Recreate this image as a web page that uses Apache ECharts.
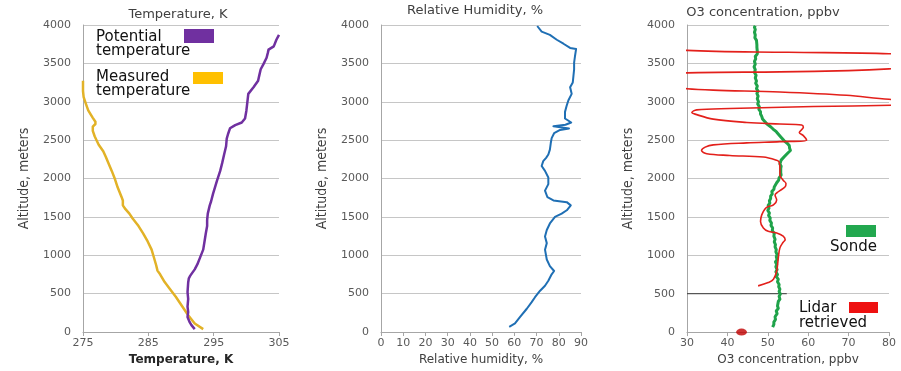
<!DOCTYPE html>
<html>
<head>
<meta charset="utf-8">
<script src="https://cdn.jsdelivr.net/npm/echarts@6/dist/echarts.min.js"></script>
<style>
  html, body { margin: 0; padding: 0; background: #fff; }
  #chart { width: 901px; height: 371px; }
</style>
</head>
<body>
<div id="chart"></div>
<script>
// Sounding profiles: altitude (m) on the vertical axis, measured quantity on the horizontal.
// Each point is [value, altitude].

const panelTitles = ['Temperature, K', 'Relative Humidity, %', 'O3 concentration, ppbv'];
const xAxisNames = ['Temperature, K', 'Relative humidity, %', 'O3 concentration, ppbv'];
const altitudeName = 'Altitude, meters';
const tempTicks = [275, 285, 295, 305];

const potentialTemp = [
  [292.1, 38], [291.6, 90], [291.3, 132], [291.0, 196], [291.1, 260], [291.0, 330],
  [291.1, 432], [291.0, 520], [291.1, 645], [291.2, 700], [291.4, 731], [291.8, 780],
  [292.1, 816], [292.5, 880], [292.9, 966], [293.4, 1073], [293.6, 1180], [293.8, 1286],
  [294.0, 1380], [294.0, 1457], [294.1, 1542], [294.4, 1650], [294.6, 1700], [294.9, 1800],
  [295.2, 1885], [295.5, 1970], [296.0, 2099], [296.3, 2200], [296.6, 2312], [296.9, 2420],
  [297.0, 2520], [297.2, 2580], [297.5, 2654], [298.3, 2696], [299.3, 2730], [299.8, 2782],
  [300.0, 2880], [300.1, 2953], [300.3, 3103], [301.1, 3188], [301.8, 3273], [302.0, 3350],
  [302.2, 3423], [302.6, 3487], [303.1, 3573], [303.3, 3640], [303.4, 3679], [304.2, 3722],
  [304.6, 3808], [305.0, 3872]
];

const measuredTemp = [
  [293.4, 38], [292.1, 111], [291.1, 218], [290.1, 346], [289.2, 460], [288.3, 560],
  [287.5, 650], [286.8, 752], [286.4, 800], [286.2, 870], [285.8, 987], [285.5, 1073],
  [284.9, 1180], [284.2, 1286], [283.5, 1380], [282.6, 1478], [282.1, 1542], [281.5, 1600],
  [281.1, 1650], [281.1, 1714], [280.9, 1760], [280.3, 1885], [279.9, 1990], [279.4, 2099],
  [278.9, 2200], [278.5, 2280], [278.1, 2355], [277.4, 2440], [276.8, 2547], [276.5, 2620],
  [276.5, 2676], [276.9, 2710], [276.9, 2740], [276.5, 2790], [275.8, 2888], [275.5, 2960],
  [275.1, 3060], [275.0, 3140], [275.0, 3273]
];

const relHumidity = [
  [57.7, 68], [60.3, 111], [62.6, 196], [65.6, 303], [67.8, 389], [69.3, 453],
  [71.6, 538], [73.8, 603], [75.3, 667], [76.8, 752], [77.9, 795], [76.0, 859],
  [74.6, 944], [73.8, 1073], [74.6, 1158], [73.8, 1244], [74.6, 1329], [76.0, 1414],
  [78.3, 1500], [81.3, 1542], [83.6, 1586], [85.4, 1650], [83.6, 1692], [77.6, 1714],
  [74.9, 1756], [73.8, 1842], [75.3, 1927], [75.3, 2013], [73.8, 2099], [72.3, 2163],
  [73.0, 2227], [74.3, 2269], [75.3, 2312], [76.0, 2376], [76.4, 2462], [76.8, 2526],
  [77.9, 2590], [80.6, 2632], [84.6, 2652], [77.6, 2680], [83.0, 2700], [85.6, 2730],
  [82.8, 2782], [82.8, 2868], [83.6, 2953], [84.3, 3017], [85.8, 3103], [85.1, 3188],
  [86.3, 3252], [86.6, 3337], [86.9, 3423], [86.9, 3509], [87.3, 3594], [87.8, 3688],
  [85.1, 3701], [82.1, 3756], [79.1, 3808], [76.0, 3872], [72.3, 3914], [70.3, 3987]
];

const sondeO3 = [
  [51.2, 65], [51.5, 100], [51.5, 130], [51.9, 165], [51.8, 200], [52.3, 240], [52.1, 275],
  [52.6, 310], [52.4, 340], [52.8, 365], [52.6, 400], [53.0, 430], [52.8, 465], [53.1, 495],
  [52.8, 530], [53.0, 560], [52.7, 590], [52.8, 620], [52.4, 655], [52.6, 690], [52.1, 720],
  [52.4, 750], [52.0, 785], [52.3, 815], [52.0, 850], [52.2, 880], [51.9, 915], [52.3, 945],
  [52.1, 980], [52.3, 1010], [52.0, 1045], [52.1, 1075], [51.8, 1110], [51.9, 1140],
  [51.6, 1175], [51.8, 1210], [51.5, 1250], [51.6, 1285], [51.1, 1320], [51.2, 1355],
  [50.8, 1390], [50.9, 1420], [50.5, 1455], [50.6, 1485], [50.2, 1520], [50.4, 1550],
  [50.0, 1585], [50.3, 1615], [50.1, 1650], [50.5, 1680], [50.4, 1710], [50.7, 1740],
  [50.7, 1770], [51.1, 1800], [51.0, 1830], [51.5, 1860], [51.6, 1890], [52.0, 1915],
  [52.2, 1945], [52.7, 1980], [52.8, 2010], [53.3, 2045], [53.2, 2075], [53.4, 2100],
  [53.2, 2130], [53.3, 2160], [53.0, 2190], [53.2, 2215], [53.3, 2240], [53.6, 2260],
  [54.0, 2280], [54.4, 2300], [54.9, 2330], [55.6, 2365], [55.4, 2395], [55.3, 2430],
  [54.8, 2460], [54.0, 2495], [53.5, 2525], [53.0, 2555], [52.6, 2580], [52.1, 2610],
  [51.3, 2645], [50.7, 2675], [49.8, 2710], [49.3, 2740], [48.7, 2775], [48.5, 2810],
  [48.2, 2840], [48.2, 2870], [47.8, 2900], [47.9, 2935], [47.5, 2970], [47.7, 3000],
  [47.4, 3040], [47.6, 3075], [47.3, 3110], [47.6, 3140], [47.2, 3170], [47.4, 3205],
  [47.0, 3240], [47.2, 3270], [46.9, 3310], [47.1, 3345], [46.7, 3380], [46.9, 3420],
  [46.6, 3455], [46.9, 3490], [46.7, 3525], [47.0, 3560], [46.9, 3590], [47.4, 3625],
  [47.4, 3655], [47.6, 3680], [47.3, 3710], [47.3, 3740], [47.0, 3765], [47.2, 3800],
  [46.8, 3835], [46.9, 3870], [46.7, 3905], [46.9, 3940], [46.7, 3970], [46.9, 3990]
];

// Lidar retrieval; above ~2900 m it swings far past both edges of the axis.
const lidarO3 = [
  [47.6, 602], [50.1, 645], [51.4, 688], [52.2, 796], [52.6, 968], [53.0, 1097],
  [53.8, 1170], [54.3, 1204], [53.8, 1250], [52.2, 1290], [50.1, 1312], [48.9, 1355],
  [48.2, 1441], [48.5, 1527], [49.3, 1604], [50.1, 1635], [51.4, 1656], [52.2, 1720],
  [51.8, 1785], [52.6, 1828], [54.3, 1893], [54.5, 1935], [53.8, 1978], [53.0, 2043],
  [53.0, 2129], [52.8, 2215], [52.2, 2237], [48.9, 2280], [40.6, 2301], [34.9, 2323],
  [33.6, 2365], [34.5, 2409], [36.5, 2439], [44.8, 2465], [53.0, 2481], [59.6, 2500],
  [58.8, 2559], [57.8, 2600], [58.8, 2667], [58.4, 2697], [53.0, 2710], [44.8, 2731],
  [36.5, 2774], [32.0, 2839], [31.2, 2860], [32.4, 2895], [40.6, 2912], [61.3, 2938],
  [80.7, 2955], [100, 2990], [80, 3032], [69.5, 3084], [53.0, 3127], [36.5, 3152],
  [30, 3170], [10, 3270], [30, 3377], [53.0, 3390], [70, 3406], [80, 3428],
  [110, 3527], [80, 3626], [55, 3645], [30, 3669], [0, 3800], [-10, 4000]
];

const surfaceO3 = [[43.5, 0]];
const lidarFloor = [[30, 500], [54.7, 500]];

const TICK_FONT = 'DejaVu Sans';
const NARROW_FONT = '"Liberation Sans Narrow", "DejaVu Sans Condensed", "Liberation Sans", "DejaVu Sans", sans-serif';
const tickColor = '#595959';
const gridColor = '#c6c6c6';
const axisColor = '#a6a6a6';

const grids = [
  { left: 83, right: 622, top: 25, bottom: 34 },
  { left: 381, right: 320, top: 25, bottom: 34 },
  { left: 687, right: 12, top: 25, bottom: 36 }
];

function yAxisFor(i) {
  return {
    type: 'value', gridIndex: i, min: 0, max: 4000, interval: 500,
    name: altitudeName, nameLocation: 'middle', nameGap: 52,
    nameTextStyle: { fontFamily: NARROW_FONT, fontSize: 14, color: '#404040' },
    axisLine: { show: true, onZero: false, lineStyle: { color: axisColor } },
    axisTick: { show: false },
    axisLabel: { fontFamily: TICK_FONT, fontSize: 11, color: tickColor, margin: 12,
      formatter: function (v) { return String(v); } },
    splitLine: { show: true, lineStyle: { color: gridColor, width: 1 } }
  };
}

function xAxisBase(i) {
  return {
    type: 'value', gridIndex: i,
    name: xAxisNames[i], nameLocation: 'middle', nameGap: 22,
    nameTextStyle: { fontFamily: TICK_FONT, fontSize: 12, color: '#404040' },
    axisLine: { show: true, onZero: false, lineStyle: { color: axisColor } },
    axisTick: { show: true, inside: false, length: 4, lineStyle: { color: axisColor } },
    axisLabel: { fontFamily: TICK_FONT, fontSize: 11, color: tickColor, margin: 6 },
    splitLine: { show: false }
  };
}

const xTemp = Object.assign(xAxisBase(0), {
  min: 275, max: 305, interval: 5,
  axisLabel: { fontFamily: TICK_FONT, fontSize: 11, color: tickColor, margin: 6, customValues: tempTicks },
  axisTick: { show: true, length: 4, lineStyle: { color: axisColor }, customValues: tempTicks },
  nameTextStyle: { fontFamily: TICK_FONT, fontSize: 12, fontWeight: 'bold', color: '#262626' }
});
const xRH = Object.assign(xAxisBase(1), { min: 0, max: 90, interval: 10 });
const xO3 = Object.assign(xAxisBase(2), { min: 30, max: 80, interval: 10, nameGap: 19 });

function lineSeries(i, data, color, width, smooth) {
  return {
    type: 'line', xAxisIndex: i, yAxisIndex: i, data: data,
    showSymbol: false, symbol: 'none', clip: true, smooth: smooth || false,
    lineStyle: { color: color, width: width, join: 'round' },
    z: 3
  };
}

const titleFont = { fontFamily: TICK_FONT, fontSize: 13, fontWeight: 'normal', color: '#404040' };
const legendFont = '15px "DejaVu Sans"';

const option = {
  animation: false,
  backgroundColor: '#ffffff',
  title: [
    { text: panelTitles[0], left: 173, top: 3, textAlign: 'center', textStyle: titleFont },
    { text: panelTitles[1], left: 470, top: -1, textAlign: 'center', textStyle: titleFont },
    { text: panelTitles[2], left: 758, top: 1, textAlign: 'center', textStyle: titleFont }
  ],
  grid: grids,
  xAxis: [xTemp, xRH, xO3],
  yAxis: [yAxisFor(0), yAxisFor(1), yAxisFor(2)],
  series: [
    lineSeries(0, measuredTemp, '#e2b227', 2.5),
    lineSeries(0, potentialTemp, '#7030a0', 2.5),
    lineSeries(1, relHumidity, '#1f6fb4', 2),
    lineSeries(2, lidarFloor, '#3a3a3a', 1),
    lineSeries(2, sondeO3, '#1fa34a', 3),
    lineSeries(2, lidarO3, '#e3201b', 1.6, 0.35),
    {
      type: 'scatter', xAxisIndex: 2, yAxisIndex: 2, data: surfaceO3,
      symbol: 'circle', symbolSize: [11, 7], clip: false,
      itemStyle: { color: '#c00000' }, z: 5
    }
  ],
  graphic: [
    { type: 'text', x: 96, y: 37, style: { text: 'Potential', font: legendFont, fill: '#111', verticalAlign: 'middle' } },
    { type: 'text', x: 96, y: 51, style: { text: 'temperature', font: legendFont, fill: '#111', verticalAlign: 'middle' } },
    { type: 'rect', shape: { x: 184, y: 29, width: 30, height: 14 }, style: { fill: '#7030a0' } },
    { type: 'text', x: 96, y: 77, style: { text: 'Measured', font: legendFont, fill: '#111', verticalAlign: 'middle' } },
    { type: 'text', x: 96, y: 91, style: { text: 'temperature', font: legendFont, fill: '#111', verticalAlign: 'middle' } },
    { type: 'rect', shape: { x: 193, y: 72, width: 30, height: 12 }, style: { fill: '#ffc000' } },
    { type: 'rect', shape: { x: 846, y: 225, width: 30, height: 12 }, style: { fill: '#22a84f' } },
    { type: 'text', x: 877, y: 247, style: { text: 'Sonde', font: legendFont, fill: '#111', align: 'right', verticalAlign: 'middle' } },
    { type: 'text', x: 799, y: 308, style: { text: 'Lidar', font: legendFont, fill: '#111', verticalAlign: 'middle' } },
    { type: 'rect', shape: { x: 849, y: 302, width: 29, height: 11 }, style: { fill: '#ee1111' } },
    { type: 'text', x: 799, y: 323, style: { text: 'retrieved', font: legendFont, fill: '#111', verticalAlign: 'middle' } }
  ]
};

const chart = echarts.init(document.getElementById('chart'), null, { renderer: 'canvas' });
chart.setOption(option);
</script>
</body>
</html>
